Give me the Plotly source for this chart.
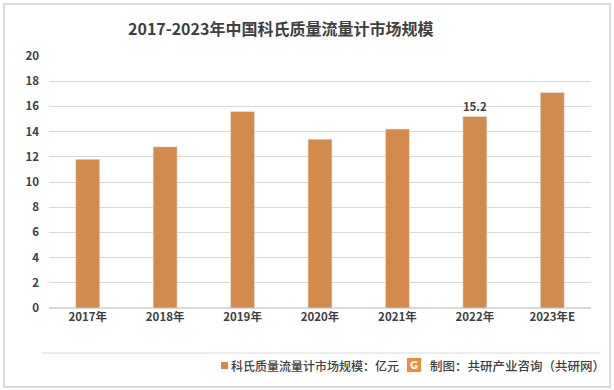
import plotly.graph_objects as go

categories = ["2017年", "2018年", "2019年", "2020年", "2021年", "2022年", "2023年E"]
values = [11.8, 12.8, 15.6, 13.4, 14.2, 15.2, 17.1]
label_text = ["", "", "", "", "", "15.2", ""]
y_ticks = [0, 2, 4, 6, 8, 10, 12, 14, 16, 18, 20]

bar_color = "#D38B4D"
font_family = "Noto Sans CJK SC, Noto Sans, sans-serif"

fig = go.Figure()
fig.add_trace(go.Bar(
    x=categories, y=values, marker_color=bar_color, width=0.31,
    text=label_text, textposition="outside", cliponaxis=False,
    textfont=dict(size=12, color="#404040", family=font_family, weight="bold"),
    name="科氏质量流量计市场规模：亿元", showlegend=False, hoverinfo="skip",
))

PW = 542
PH = 252
def px(x):
    return (x - 49) / PW
def py(y):
    return (308 - y) / PH

fig.update_layout(
    width=614, height=390,
    margin=dict(l=49, r=23, t=56, b=82),
    paper_bgcolor="white", plot_bgcolor="white",
    font=dict(family=font_family, color="#404040"),
    xaxis=dict(tickfont=dict(size=11.5, color="#404040", weight="bold"), showline=False, ticks="",
               showgrid=False),
    yaxis=dict(range=[0, 20], tickvals=y_ticks, tickfont=dict(size=11.5, color="#404040", weight="bold"),
               showgrid=True, gridcolor="#D9D9D9", gridwidth=1, zeroline=True,
               zerolinecolor="#D9D9D9", showline=False, ticks="", ticklabelstandoff=9),
    bargap=0.69,
    shapes=[
        dict(type="rect", xref="paper", yref="paper", x0=px(4), x1=px(610),
             y0=py(387), y1=py(4), line=dict(color="#D0D0D0", width=1.5)),
        dict(type="line", xref="paper", yref="paper", x0=px(42), x1=px(600),
             y0=py(353), y1=py(353), line=dict(color="#D9D9D9", width=1)),
        dict(type="rect", xref="paper", yref="paper",
             x0=px(221), x1=px(228), y0=py(369), y1=py(362),
             fillcolor=bar_color, line=dict(width=0)),
        dict(type="rect", xref="paper", yref="paper",
             x0=px(407), x1=px(421), y0=py(372), y1=py(358),
             fillcolor="#F08A3C", line=dict(width=0)),
    ],
    annotations=[
        dict(text="<b>2017-2023年中国科氏质量流量计市场规模</b>", xref="paper", yref="paper",
             x=px(280), y=py(28), xanchor="center", yanchor="middle",
             showarrow=False, font=dict(size=16, color="#404040")),
        dict(text="科氏质量流量计市场规模：亿元", xref="paper", yref="paper",
             x=px(229), y=py(365), xanchor="left", yanchor="middle",
             showarrow=False, font=dict(size=12, color="#404040", weight=500)),
        dict(text="<b>G</b>", xref="paper", yref="paper",
             x=px(414), y=py(365), xanchor="center", yanchor="middle",
             showarrow=False, font=dict(size=10, color="white", family="DejaVu Sans")),
        dict(text="制图：共研产业咨询（共研网）", xref="paper", yref="paper",
             x=px(428), y=py(365), xanchor="left", yanchor="middle",
             showarrow=False, font=dict(size=12.5, color="#404040", weight=500)),
    ],
)

fig.write_html("out.html", config={"displayModeBar": False},
               post_script="document.body.style.margin='0';document.body.style.overflow='hidden';")
